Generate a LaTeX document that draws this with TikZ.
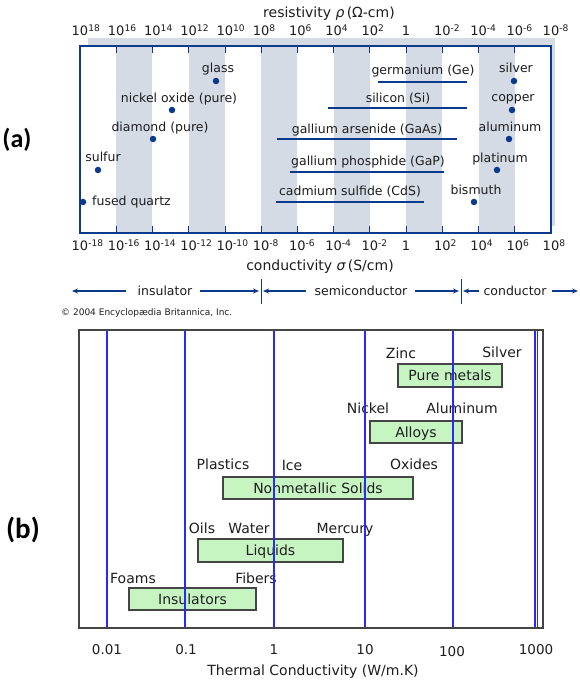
\documentclass[tikz,border=0pt]{standalone}
\usepackage{fontspec}
\setmainfont{DejaVu Sans}
\newfontfamily\lblfont{Carlito}
\usetikzlibrary{arrows.meta}
\definecolor{navy}{HTML}{0B3A8C}
\definecolor{band}{HTML}{D5DBE5}
\definecolor{boxgreen}{HTML}{C6F5C2}
\definecolor{frameg}{HTML}{454545}
\definecolor{txt}{HTML}{1E1E1E}
\definecolor{vblue}{HTML}{2A2AF5}
\begin{document}
\begin{tikzpicture}[x=1pt,y=-1pt,
  ticklbl/.style={anchor=base,inner sep=0pt,text=txt,font=\fontsize{13}{15}\selectfont},
  alab/.style={anchor=base,inner sep=0pt,text=txt,font=\fontsize{12.5}{14}\selectfont},
  dot/.style={circle,fill=navy,inner sep=0pt,minimum size=6.5pt},
  semi/.style={navy,line width=2pt},
  arr/.style={navy,line width=1.4pt,-{Stealth[length=6pt,width=5pt]}},
  blab/.style={anchor=base,inner sep=0pt,text=txt,font=\fontsize{14}{16}\selectfont},
  gbox/.style={draw=frameg,line width=1.5pt,fill=boxgreen},
  vline/.style={vblue,line width=1.3pt},
  bigl/.style={inner sep=0pt,text=black}]
\useasboundingbox (0,0) rectangle (579,684);
\fill[white] (0,0) rectangle (579,684);
% ---------------- (a)
\fill[band] (88,38) rectangle (555,226);
\fill[white] (80,46) rectangle (551,233);
\foreach \a in {-16,-12,-8,-4,0,4}{
  \pgfmathsetmacro\xa{80+(\a+18)*471/26}
  \pgfmathsetmacro\xb{80+(\a+20)*471/26}
  \fill[band] (\xa,46) rectangle (\xb,233);
}
\foreach \d in {-16,-14,...,6}{
  \pgfmathsetmacro\xx{80+(\d+18)*471/26}
  \draw[navy,line width=0.8pt] (\xx,46) -- (\xx,53);
  \draw[navy,line width=0.8pt] (\xx,226) -- (\xx,233);
}
\draw[navy,line width=1.6pt] (80,46) rectangle (551,233);
\foreach \d in {-18,-16,...,8}{
  \pgfmathsetmacro\xx{80+(\d+18)*471/26}
  \pgfmathtruncatemacro\e{-\d}
  \pgfmathtruncatemacro\n{\d+20}
  \ifnum\d=0
    \node[ticklbl] (top\n) at (\xx,36) {1};
    \node[ticklbl] (bot\n) at (\xx,251) {1};
  \else
    \node[ticklbl] (top\n) at (\xx,36) {10\rlap{\textsuperscript{\e}}};
    \node[ticklbl] (bot\n) at (\xx,251) {10\rlap{\textsuperscript{\d}}};
  \fi
}
\node[ticklbl,font=\fontsize{14}{16}\selectfont] (rho) at (329,18) {resistivity {\itshape ρ}\,(Ω-cm)};
\node[ticklbl,font=\fontsize{14}{16}\selectfont] (sigma) at (320,270) {conductivity {\itshape σ}\,(S/cm)};
% insulators / metals (dots)
\node[dot] (glassd) at (216,81) {};
\node[alab] (glass) at (218,73) {glass};
\node[dot] (nid) at (172,110) {};
\node[alab] (ni) at (179,103) {nickel oxide (pure)};
\node[dot] (diad) at (153,139) {};
\node[alab] (dia) at (160,132) {diamond (pure)};
\node[dot] (suld) at (98,170) {};
\node[alab] (sul) at (103,162) {sulfur};
\node[dot] (fqd) at (83,202) {};
\node[alab,anchor=base west] (fq) at (92,206) {fused quartz};
\node[dot] (agd) at (514,81) {};
\node[alab] (ag) at (516,73) {silver};
\node[dot] (cud) at (512,110) {};
\node[alab] (cu) at (513,102) {copper};
\node[dot] (ald) at (509,139) {};
\node[alab] (al) at (510,132) {aluminum};
\node[dot] (ptd) at (497,170) {};
\node[alab] (pt) at (500,163) {platinum};
\node[dot] (bid) at (474,202) {};
\node[alab] (bi) at (476,195) {bismuth};
% semiconductors
\node[alab] (ge) at (423,75) {germanium (Ge)};
\coordinate (geA) at (378,82); \coordinate (geB) at (467,82);
\draw[semi] (geA) -- (geB);
\node[alab] (si) at (398,103) {silicon (Si)};
\coordinate (siA) at (328,108); \coordinate (siB) at (467,108);
\draw[semi] (siA) -- (siB);
\node[alab] (gaas) at (367,134) {gallium arsenide (GaAs)};
\coordinate (gaasA) at (277,139); \coordinate (gaasB) at (457,139);
\draw[semi] (gaasA) -- (gaasB);
\node[alab] (gap) at (368,166) {gallium phosphide (GaP)};
\coordinate (gapA) at (290,172); \coordinate (gapB) at (444,172);
\draw[semi] (gapA) -- (gapB);
\node[alab] (cds) at (350,196) {cadmium sulfide (CdS)};
\coordinate (cdsA) at (276,202); \coordinate (cdsB) at (424,202);
\draw[semi] (cdsA) -- (cdsB);
% classes row
\node[alab] (ins) at (165,295) {insulator};
\node[alab] (semc) at (361,295) {semiconductor};
\node[alab] (cond) at (515,295) {conductor};
\coordinate (i1) at (126,291); \coordinate (i0) at (72,291);
\coordinate (i2) at (200,291); \coordinate (i3) at (259,291);
\coordinate (s1) at (306,291); \coordinate (s0) at (263,291);
\coordinate (s2) at (415,291); \coordinate (s3) at (459,291);
\coordinate (c1) at (479,291); \coordinate (c0) at (463,291);
\coordinate (c2) at (552,291); \coordinate (c3) at (578,291);
\draw[arr] (i1) -- (i0); \draw[arr] (i2) -- (i3);
\draw[arr] (s1) -- (s0); \draw[arr] (s2) -- (s3);
\draw[arr] (c1) -- (c0); \draw[arr] (c2) -- (c3);
\coordinate (sepA1) at (261,279); \coordinate (sepA2) at (261,304);
\coordinate (sepB1) at (461,279); \coordinate (sepB2) at (461,304);
\draw[navy,line width=1pt] (sepA1) -- (sepA2);
\draw[navy,line width=1pt] (sepB1) -- (sepB2);
\node[anchor=base west,inner sep=0pt,text=txt,font=\fontsize{9}{10}\selectfont] (copy) at (61,315) {© 2004 Encyclopædia Britannica, Inc.};
% ---------------- (b)
\node[gbox,minimum width=104pt,minimum height=23pt,inner sep=0pt] (pm) at (450,375.5) {};
\node[gbox,minimum width=92pt,minimum height=22pt,inner sep=0pt] (alloy) at (416,432) {};
\node[gbox,minimum width=190pt,minimum height=22pt,inner sep=0pt] (nms) at (318,488) {};
\node[gbox,minimum width=145pt,minimum height=23pt,inner sep=0pt] (liq) at (270.5,550.5) {};
\node[gbox,minimum width=127pt,minimum height=22pt,inner sep=0pt] (insb) at (192.5,599) {};
\node[blab] at ([yshift=-5pt]pm.center) {Pure metals};
\node[blab] at ([yshift=-5pt]alloy.center) {Alloys};
\node[blab] at ([yshift=-5pt]nms.center) {Nonmetallic Solids};
\node[blab] at ([yshift=-5pt]liq.center) {Liquids};
\node[blab] at ([yshift=-5pt]insb.center) {Insulators};
\node[blab] (zn) at (401,358) {Zinc};
\node[blab] (agb) at (502,357) {Silver};
\node[blab] (nib) at (368,413) {Nickel};
\node[blab] (alb) at (462,413) {Aluminum};
\node[blab] (pl) at (223,469) {Plastics};
\node[blab] (ice) at (292,470) {Ice};
\node[blab] (ox) at (414,469) {Oxides};
\node[blab] (oil) at (202,533) {Oils};
\node[blab] (wat) at (249,533) {Water};
\node[blab] (hg) at (345,533) {Mercury};
\node[blab] (foam) at (133,583) {Foams};
\node[blab] (fib) at (256,583) {Fibers};
\foreach \x/\nm in {107/a,185/b,274/c,365/d,453/e,535/f,537.5/g}{
  \coordinate (vt\nm) at (\x,331);
  \coordinate (vb\nm) at (\x,627);
  \draw[vline] (vt\nm) -- (vb\nm);
}
\draw[frameg,line width=2pt] (79,330) rectangle (543,628);
\node[blab,font=\fontsize{13.5}{15}\selectfont] (k1) at (107,654) {0.01};
\node[blab,font=\fontsize{13.5}{15}\selectfont] (k2) at (186,654) {0.1};
\node[blab,font=\fontsize{13.5}{15}\selectfont] (k3) at (274,654) {1};
\node[blab,font=\fontsize{13.5}{15}\selectfont] (k4) at (365,654) {10};
\node[blab,font=\fontsize{13.5}{15}\selectfont] (k5) at (452,656) {100};
\node[blab,font=\fontsize{13.5}{15}\selectfont] (k6) at (536,654) {1000};
\node[blab] (tc) at (313,675) {Thermal Conductivity (W/m.K)};
% panel labels
\node[bigl,font=\lblfont\bfseries\fontsize{26}{28}\selectfont] (la) at (17,140) {(a)};
\node[bigl,font=\lblfont\bfseries\fontsize{29}{30}\selectfont] (lb) at (23,530) {(b)};
\end{tikzpicture}
\end{document}
